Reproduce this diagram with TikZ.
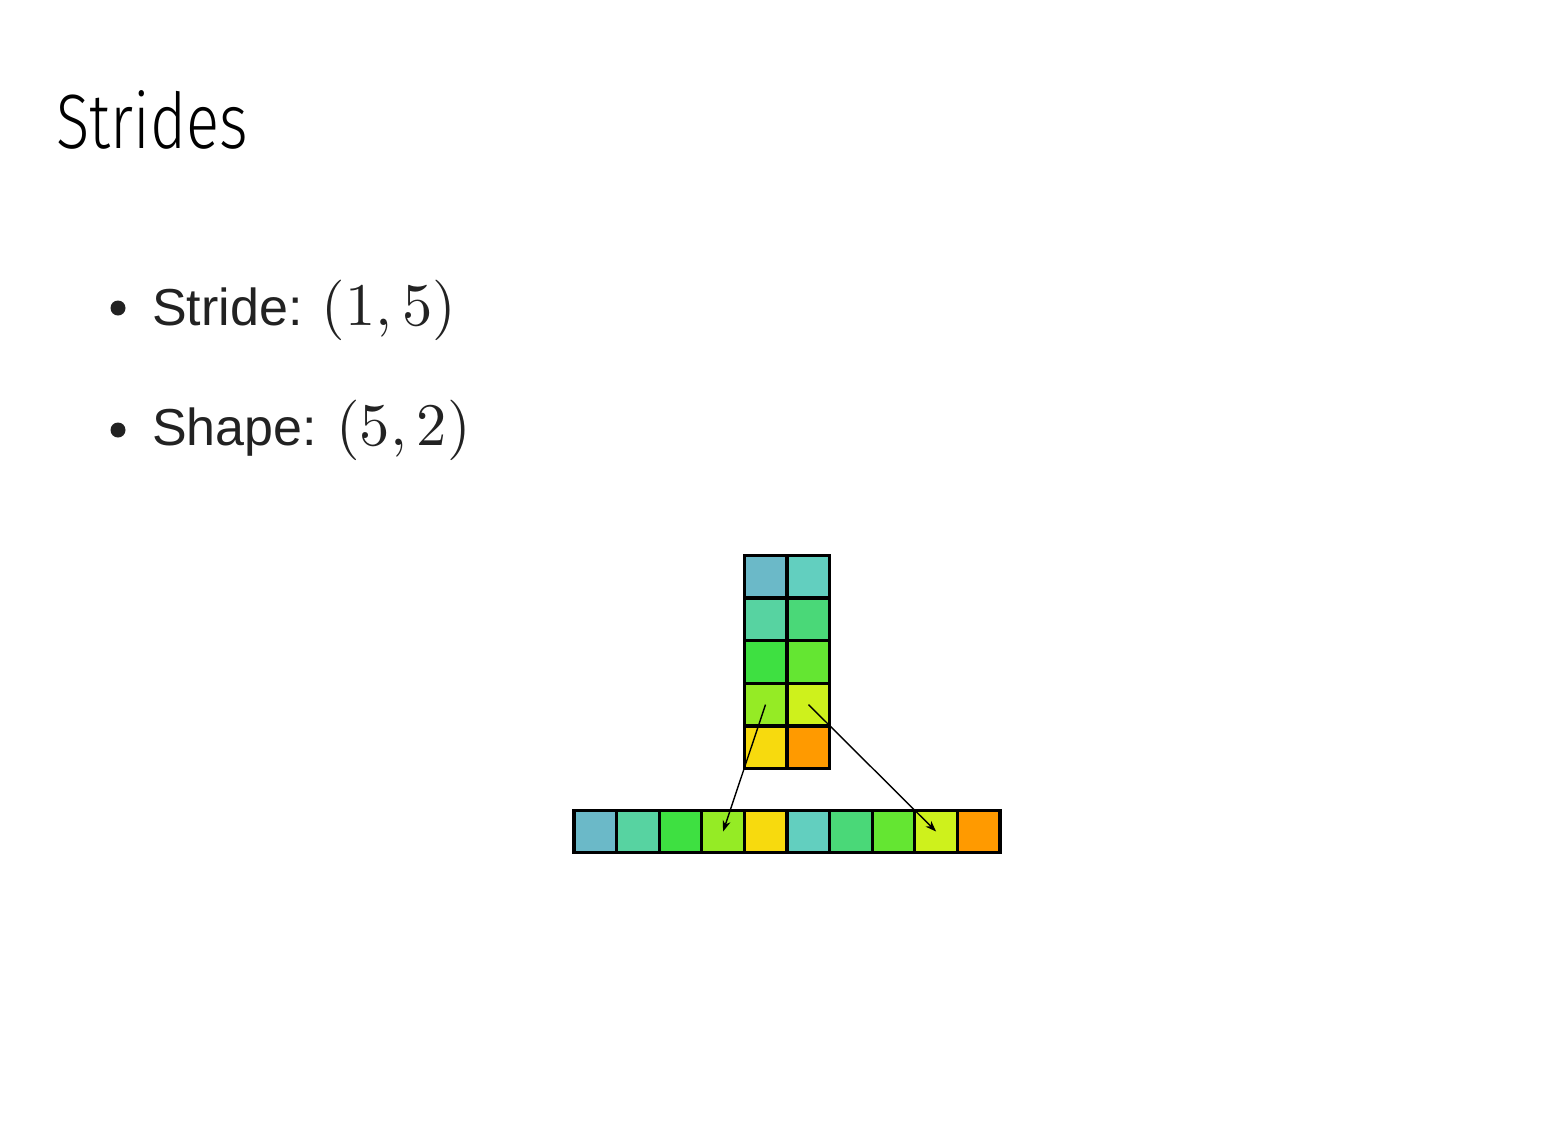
\RequirePackage{fix-cm}
\documentclass[tikz,border=0pt]{standalone}
\usepackage{fontspec}
\usepackage{graphicx}
\setmainfont{Liberation Sans}
\newfontfamily\titlefont[FakeStretch=0.8]{Fira Sans Light}
\usetikzlibrary{arrows.meta}
\definecolor{textgray}{HTML}{222222}
\definecolor{cA}{HTML}{6BB9C8}
\definecolor{cB}{HTML}{62CFBF}
\definecolor{cC}{HTML}{57D3A1}
\definecolor{cD}{HTML}{4AD878}
\definecolor{cE}{HTML}{3EE041}
\definecolor{cF}{HTML}{64E632}
\definecolor{cG}{HTML}{95EB25}
\definecolor{cH}{HTML}{CEF11C}
\definecolor{cI}{HTML}{F7DA0E}
\definecolor{cJ}{HTML}{FF9A00}
\newcommand{\bigmath}[1]{\scalebox{6.05}{\fontsize{10}{12}\selectfont$#1$}}
\tikzset{
  cell/.style={draw=black, line width=3.3pt, minimum width=42.6pt, minimum height=42.6pt, inner sep=0pt, outer sep=0pt},
  ptr/.style={draw=black, line width=1.4pt, -{Stealth[length=11pt,width=8pt]}},
  bul/.style={circle, fill=textgray, minimum size=15pt, inner sep=0pt},
  item/.style={anchor=base west, inner sep=0pt, text=textgray, font=\fontsize{52}{60}\selectfont}
}
\begin{document}
\begin{tikzpicture}[x=1pt,y=-1pt]
\useasboundingbox (0,0) rectangle (1561,1138);
\node[anchor=base west, inner sep=0pt, font=\titlefont\fontsize{77}{80}\selectfont] (title) at (56,148) {Strides};
\node[bul] (b1) at (118,308) {};
\node[item] (t1) at (152,325) {Stride: \bigmath{(1,5)}};
\node[bul] (b2) at (118,430) {};
\node[item] (t2) at (152,445) {Shape: \bigmath{(5,2)}};
% 2D array 5x2
\node[cell, fill=cA] (m11) at (765.5,576.5) {};
\node[cell, fill=cB] (m12) at (808.5,576.5) {};
\node[cell, fill=cC] (m21) at (765.5,619.2) {};
\node[cell, fill=cD] (m22) at (808.5,619.2) {};
\node[cell, fill=cE] (m31) at (765.5,661.9) {};
\node[cell, fill=cF] (m32) at (808.5,661.9) {};
\node[cell, fill=cG] (m41) at (765.5,704.6) {};
\node[cell, fill=cH] (m42) at (808.5,704.6) {};
\node[cell, fill=cI] (m51) at (765.5,747.3) {};
\node[cell, fill=cJ] (m52) at (808.5,747.3) {};
% flat memory
\foreach \c [count=\i from 0] in {cA,cC,cE,cG,cI,cB,cD,cF,cH,cJ}{
  \node[cell, fill=\c] (f\i) at ({595.3+42.6*\i},831.5) {};
}
\draw[ptr] (m41.center) -- (f3.center);
\draw[ptr] (m42.center) -- (f8.center);
\end{tikzpicture}
\end{document}
